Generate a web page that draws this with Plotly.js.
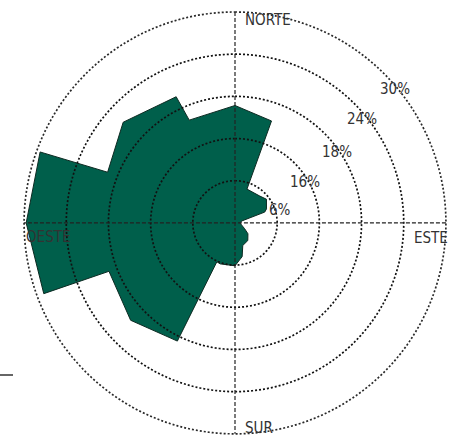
<!DOCTYPE html>
<html>
<head>
<meta charset="utf-8">
<script src="https://cdn.plot.ly/plotly-3.0.1.min.js"></script>
<style>html,body{margin:0;padding:0;background:#fff;}#chart{width:456px;height:437px;}</style>
</head>
<body>
<div id="chart"></div>
<script>
// Wind-rose outline: compass bearing (deg, clockwise from north) and frequency (%)
const shapeTheta = [0, 19.7, 19.5, 42.8, 53, 66, 70, 74, 90, 121, 130, 144, 161, 168, 180, 200, 205, 206, 227, 249, 249.7, 270, 290, 291.7, 312, 335, 336, 360];
const shapeR     = [16.7, 15.4, 5.1, 5.2, 5.6, 4.9, 4.5, 1.0, 0.7, 1.6, 2.4, 3.1, 3.4, 4.9, 6.1, 6.2, 6.1, 18.7, 20.3, 19.2, 29.0, 29.7, 29.5, 19.5, 21.4, 19.8, 16.0, 16.7];

// Rings and their labels
const ringValues = [6, 12, 18, 24, 30];
const ringLabels = ['6%', '16%', '18%', '24%', '30%'];

// Cardinal directions
const directionNames  = ['NORTE', 'ESTE', 'SUR', 'OESTE'];
const directionAngles = [0, 90, 180, 270];

const W = 456, H = 437;
const cx = 235, cy = 224, R = 212;
const pad = 1.015;

const traces = [];
traces.push({
  type: 'scatterpolar', mode: 'lines',
  theta: shapeTheta, r: shapeR,
  fill: 'toself', fillcolor: '#005f4b',
  line: {color: '#0d2a22', width: 1},
  hoverinfo: 'skip'
});

// dotted rings drawn above the fill
const full = [];
for (let a = 0; a <= 360; a += 1) full.push(a);
ringValues.forEach((v, i) => {
  traces.push({
    type: 'scatterpolar', mode: 'lines',
    theta: full, r: full.map(() => v),
    line: {color: i === ringValues.length - 1 ? '#2a2a2a' : '#111', width: 1.7, dash: '2px,2px'},
    hoverinfo: 'skip'
  });
});

// dashed cross lines N-S and E-W
const rMax = ringValues[ringValues.length - 1];
[[directionAngles[0], directionAngles[2]], [directionAngles[1], directionAngles[3]]].forEach(p => {
  traces.push({
    type: 'scatterpolar', mode: 'lines',
    theta: [p[0], p[0], p[1]], r: [rMax, 0, rMax],
    line: {color: '#222', width: 1.2, dash: '4px,2px'},
    hoverinfo: 'skip'
  });
});

// label placement (pixel centres)
const dirPos = [[268, 19.5], [431, 237.5], [259, 428], [47.5, 237]];
const ringPos = [[280, 210], [305, 182], [337, 152], [362, 119], [395, 89]];
const font = {family: 'DejaVu Sans Condensed, Liberation Sans Narrow, Liberation Sans, sans-serif', size: 15, color: '#333'};
const annotations = [];
directionNames.forEach((t, i) => {
  annotations.push({text: t, xref: 'paper', yref: 'paper', x: dirPos[i][0] / W, y: 1 - dirPos[i][1] / H,
    xanchor: 'center', yanchor: 'middle', showarrow: false, font: font, borderpad: 0});
});
ringLabels.forEach((t, i) => {
  annotations.push({text: t, xref: 'paper', yref: 'paper', x: ringPos[i][0] / W, y: 1 - ringPos[i][1] / H,
    xanchor: 'center', yanchor: 'middle', showarrow: false, font: font, borderpad: 0});
});

const Rd = R * pad;
const layout = {
  width: W, height: H,
  margin: {l: 0, r: 0, t: 0, b: 0, pad: 0},
  paper_bgcolor: '#fff',
  showlegend: false,
  polar: {
    domain: {x: [(cx - Rd) / W, (cx + Rd) / W], y: [(H - cy - Rd) / H, (H - cy + Rd) / H]},
    bgcolor: 'rgba(0,0,0,0)',
    radialaxis: {range: [0, rMax * pad], showgrid: false, showline: false, showticklabels: false, ticks: ''},
    angularaxis: {rotation: 90, direction: 'clockwise', showgrid: false, showline: false, showticklabels: false, ticks: ''}
  },
  annotations: annotations,
  shapes: [{type: 'line', xref: 'paper', yref: 'paper', x0: 0, x1: 13 / W, y0: 1 - 375 / H, y1: 1 - 375 / H,
    line: {color: '#333', width: 1.5}}]
};

Plotly.newPlot('chart', traces, layout, {displayModeBar: false, staticPlot: true});
</script>
</body>
</html>
